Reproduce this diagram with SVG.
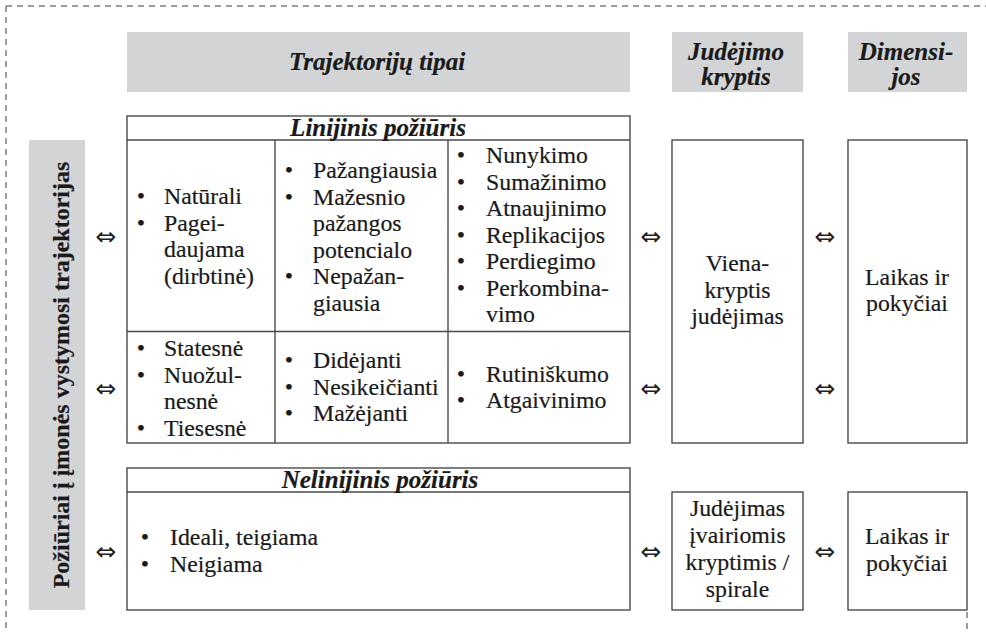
<svg xmlns="http://www.w3.org/2000/svg" width="986" height="632" viewBox="0 0 986 632">
  <style>
    .hdr { fill: #d3d4d6; }
    .box { fill: #ffffff; stroke: #4a4a4a; stroke-width: 1.4; }
    .ln { stroke: #4a4a4a; stroke-width: 1.4; fill: none; }
    .frame { stroke: #3a3a3a; stroke-width: 1; stroke-dasharray: 6 5; fill: none; }
    .t { font-family: 'Liberation Serif', serif; font-size: 23.8px; fill: #1a1a1a; stroke: #1a1a1a; stroke-width: 0.2; }
    .bi { font-weight: bold; font-style: italic; font-size: 25px; }
    .c { text-anchor: middle; }
    .arr { font-family: 'DejaVu Sans', sans-serif; font-size: 25px; text-anchor: middle; fill: #222222; }
  </style>

  <!-- dashed outer frame -->
  <g id="frame">
    <line class="frame" x1="6" y1="6" x2="986" y2="6"/>
    <line class="frame" x1="6" y1="6" x2="6" y2="632"/>
    <line class="frame" x1="967" y1="612" x2="967" y2="632"/>
  </g>

  <g font-family="Liberation Serif, serif">
  <!-- column headers -->
  <g id="header-types">
    <rect class="hdr" x="127" y="32" width="503" height="60"/>
    <text class="t bi c" x="377" y="70">Trajektorijų tipai</text>
  </g>
  <g id="header-direction">
    <rect class="hdr" x="672" y="32" width="131" height="60"/>
    <text class="t bi c" x="736" y="59.5">Judėjimo</text>
    <text class="t bi c" x="736" y="85">kryptis</text>
  </g>
  <g id="header-dimensions">
    <rect class="hdr" x="848" y="32" width="119" height="60"/>
    <text class="t bi c" x="906" y="59.5">Dimensi-</text>
    <text class="t bi c" x="906" y="85">jos</text>
  </g>

  <!-- vertical side label -->
  <g id="side-label">
    <rect class="hdr" x="29" y="140" width="56" height="470"/>
    <text class="t" transform="translate(69,375) rotate(-90)" text-anchor="middle" font-weight="bold" style="font-size:24px">Požiūriai į įmonės vystymosi trajektorijas</text>
  </g>

  <!-- linear approach table -->
  <g id="linear">
    <rect class="box" x="127" y="116" width="503" height="327"/>
    <line class="ln" x1="127" y1="140" x2="630" y2="140"/>
    <line class="ln" x1="127" y1="331.5" x2="630" y2="331.5"/>
    <line class="ln" x1="275" y1="140" x2="275" y2="443"/>
    <line class="ln" x1="448" y1="140" x2="448" y2="443"/>
    <text class="t bi c" x="378" y="136">Linijinis požiūris</text>

    <!-- row 1, column 1 -->
    <text class="t c" x="141" y="204">•</text>
    <text class="t c" x="141" y="230.5">•</text>
    <text class="t" x="164" y="204">Natūrali</text>
    <text class="t" x="164" y="230.5">Pagei-</text>
    <text class="t" x="164" y="257">daujama</text>
    <text class="t" x="164" y="283.5">(dirbtinė)</text>

    <!-- row 1, column 2 -->
    <text class="t c" x="289" y="178">•</text>
    <text class="t c" x="289" y="204.5">•</text>
    <text class="t c" x="289" y="284">•</text>
    <text class="t" x="313" y="178">Pažangiausia</text>
    <text class="t" x="313" y="204.5">Mažesnio</text>
    <text class="t" x="313" y="231">pažangos</text>
    <text class="t" x="313" y="257.5">potencialo</text>
    <text class="t" x="313" y="284">Nepažan-</text>
    <text class="t" x="313" y="310.5">giausia</text>

    <!-- row 1, column 3 -->
    <text class="t c" x="461" y="163">•</text>
    <text class="t c" x="461" y="189.5">•</text>
    <text class="t c" x="461" y="216">•</text>
    <text class="t c" x="461" y="242.5">•</text>
    <text class="t c" x="461" y="269">•</text>
    <text class="t c" x="461" y="295.5">•</text>
    <text class="t" x="486" y="163">Nunykimo</text>
    <text class="t" x="486" y="189.5">Sumažinimo</text>
    <text class="t" x="486" y="216">Atnaujinimo</text>
    <text class="t" x="486" y="242.5">Replikacijos</text>
    <text class="t" x="486" y="269">Perdiegimo</text>
    <text class="t" x="486" y="295.5">Perkombina-</text>
    <text class="t" x="486" y="322">vimo</text>

    <!-- row 2, column 1 -->
    <text class="t c" x="141" y="356">•</text>
    <text class="t c" x="141" y="382.5">•</text>
    <text class="t c" x="141" y="435.5">•</text>
    <text class="t" x="164" y="356">Statesnė</text>
    <text class="t" x="164" y="382.5">Nuožul-</text>
    <text class="t" x="164" y="409">nesnė</text>
    <text class="t" x="164" y="435.5">Tiesesnė</text>

    <!-- row 2, column 2 -->
    <text class="t c" x="289" y="368">•</text>
    <text class="t c" x="289" y="394.5">•</text>
    <text class="t c" x="289" y="421">•</text>
    <text class="t" x="313" y="368">Didėjanti</text>
    <text class="t" x="313" y="394.5">Nesikeičianti</text>
    <text class="t" x="313" y="421">Mažėjanti</text>

    <!-- row 2, column 3 -->
    <text class="t c" x="461" y="381.5">•</text>
    <text class="t c" x="461" y="408">•</text>
    <text class="t" x="486" y="381.5">Rutiniškumo</text>
    <text class="t" x="486" y="408">Atgaivinimo</text>
  </g>

  <g id="linear-direction">
    <rect class="box" x="672" y="140" width="131" height="303"/>
    <text class="t c" x="737.5" y="271">Viena-</text>
    <text class="t c" x="737.5" y="297.5">kryptis</text>
    <text class="t c" x="737.5" y="324">judėjimas</text>
  </g>

  <g id="linear-dimension">
    <rect class="box" x="848" y="140" width="119" height="303"/>
    <text class="t c" x="907" y="284.5">Laikas ir</text>
    <text class="t c" x="907" y="311">pokyčiai</text>
  </g>

  <!-- non-linear approach table -->
  <g id="nonlinear">
    <rect class="box" x="127" y="468" width="503" height="142"/>
    <line class="ln" x1="127" y1="492" x2="630" y2="492"/>
    <text class="t bi c" x="380" y="488">Nelinijinis požiūris</text>
    <text class="t c" x="145" y="545">•</text>
    <text class="t c" x="145" y="571.5">•</text>
    <text class="t" x="170" y="545">Ideali, teigiama</text>
    <text class="t" x="170" y="571.5">Neigiama</text>
  </g>

  <g id="nonlinear-direction">
    <rect class="box" x="672" y="492" width="131" height="118"/>
    <text class="t c" x="737.5" y="516">Judėjimas</text>
    <text class="t c" x="737.5" y="543">įvairiomis</text>
    <text class="t c" x="737.5" y="570">kryptimis /</text>
    <text class="t c" x="737.5" y="597">spirale</text>
  </g>

  <g id="nonlinear-dimension">
    <rect class="box" x="848" y="492" width="119" height="118"/>
    <text class="t c" x="907" y="544">Laikas ir</text>
    <text class="t c" x="907" y="570.5">pokyčiai</text>
  </g>
  </g>

  <!-- two-way links between the columns -->
  <g id="connectors">
    <text class="arr" x="106" y="245">⇔</text>
    <text class="arr" x="106" y="397">⇔</text>
    <text class="arr" x="106" y="560">⇔</text>
    <text class="arr" x="651" y="245">⇔</text>
    <text class="arr" x="651" y="397">⇔</text>
    <text class="arr" x="651" y="560">⇔</text>
    <text class="arr" x="825" y="245">⇔</text>
    <text class="arr" x="825" y="397">⇔</text>
    <text class="arr" x="825" y="560">⇔</text>
  </g>
</svg>
